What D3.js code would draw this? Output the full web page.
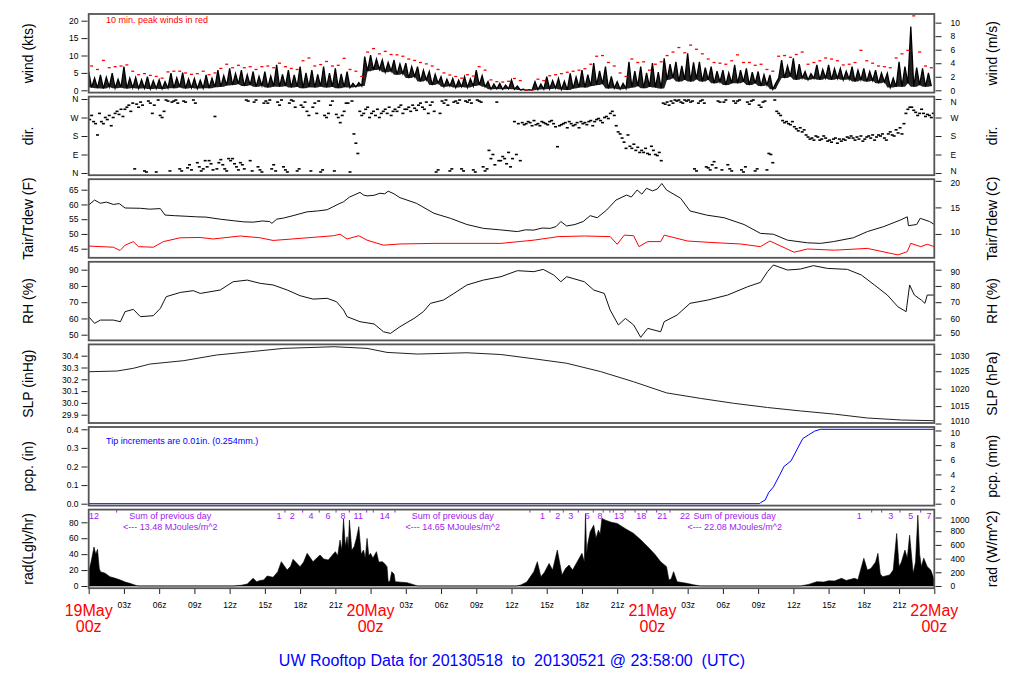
<!DOCTYPE html>
<html>
<head>
<meta charset="utf-8">
<script src="https://cdn.jsdelivr.net/npm/d3@7"></script>
<style>
  body { margin: 0; background: #fff; }
  text { font-family: "Liberation Sans", Arial, sans-serif; }
</style>
</head>
<body>
<div id="chart"></div>
<script>
// ---- data (hours since 19May 00z) ----

// wind speed, kts, every 15 minutes (4 per hour)
const windKts = [
  5.4,0.8,3.5,0.6, 4.4,0.5,3.8,1.0, 4.9,0.6,3.2,0.8, 6.8,0.5,3.5,0.7, 3.7,0.5,3.0,0.6, 3.9,0.4,2.8,0.5,
  3.0,0.4,2.5,0.6, 4.9,0.6,3.6,0.9, 5.1,0.5,3.3,0.7, 3.4,0.5,2.9,0.6, 4.4,0.6,3.5,0.9, 5.8,1.0,4.2,1.4,
  6.3,1.5,4.8,1.8, 5.8,1.2,4.5,1.5, 5.4,1.0,4.0,1.3, 5.4,0.8,4.1,1.1, 7.3,1.0,4.6,1.2, 5.8,0.8,4.4,1.0,
  6.8,0.6,5.0,0.9, 5.8,0.8,4.6,1.1, 6.8,0.8,4.9,1.0, 6.3,0.6,4.7,0.9, 5.4,0.8,2.0,1.0, 2.2,1.2,9.7,5.5,
  10.1,5.8,9.0,6.0, 8.7,5.2,8.0,5.5, 8.7,4.5,7.6,4.8, 7.8,3.5,6.8,4.0, 6.8,2.5,5.8,3.0, 5.4,1.5,4.6,2.0,
  3.9,1.0,3.2,1.2, 3.4,0.8,2.9,1.0, 3.9,0.8,3.3,1.2, 5.8,1.5,4.2,1.0, 2.5,0.3,1.8,0.4, 2.0,0.3,1.5,0.4,
  3.0,0.3,1.2,0.1, 0.3,0.0,0.2,0.0, 2.5,0.2,1.8,0.3, 3.9,0.4,2.8,0.6, 3.4,0.2,2.6,0.1, 4.9,0.5,3.8,0.8,
  5.8,0.8,4.5,1.2, 7.8,1.5,5.6,1.8, 6.8,0.5,4.0,0.6, 2.5,0.3,2.0,0.5, 8.2,0.8,5.5,1.2, 6.8,0.6,5.0,1.0,
  7.8,0.8,5.2,0.5, 9.2,3.0,7.5,3.5, 8.2,2.5,7.0,3.0, 10.6,2.5,8.0,3.2, 8.2,2.5,6.5,3.0, 6.8,2.0,5.5,2.4,
  5.8,1.5,5.0,2.0, 7.3,2.0,5.8,2.4, 6.3,1.5,5.2,2.0, 5.4,1.2,4.5,1.5, 4.4,0.3,2.0,3.5, 8.7,3.5,7.0,4.0,
  9.2,3.0,7.5,3.5, 5.4,3.0,4.8,3.4, 7.3,3.0,6.0,3.5, 7.3,3.0,6.2,3.4, 6.3,3.0,5.5,3.2, 6.8,2.5,5.8,3.0,
  6.3,2.5,5.4,2.8, 5.8,2.0,5.0,2.4, 4.9,0.8,3.5,1.0, 8.2,1.0,6.8,2.0, 18.3,1.0,6.5,1.5, 6.3,1.0,5.0,1.2
];

// 10 min peak winds, kts, two per hour
const gustKts = [
  7.0,6.0, 8.6,6.5, 6.8,7.0, 7.3,5.5, 4.5,4.8, 4.3,4.0, 3.5,5.3, 5.5,5.5, 5.0,4.6, 4.8,5.5, 4.5,5.0, 6.3,7.5,
  6.5,7.2, 6.5,6.8, 6.0,6.8, 7.0,6.5, 7.8,6.8, 6.3,6.0, 8.5,9.3, 7.0,7.4, 8.3,7.0, 7.2,9.2, 6.0,5.5, 4.0,11.0,
  12.0,10.5, 11.2,10.3, 10.2,9.8, 9.0,8.6, 8.0,7.6, 7.0,6.0, 5.0,4.4, 4.0,3.5, 4.5,4.1, 6.8,5.8, 3.0,2.5, 2.4,2.6,
  3.4,2.8, 0.1,0.1, 3.2,2.8, 4.2,4.5, 4.8,5.2, 5.5,5.8, 6.2,7.5, 9.8,10.0, 8.0,7.0, 5.0,4.0, 9.0,8.0, 8.2,5.8,
  7.5,8.2, 10.0,11.0, 12.3,10.8, 13.0,11.8, 10.5,9.0, 8.0,7.8, 7.5,8.5, 10.2,8.0, 8.0,7.2, 7.5,6.0, 5.5,9.8, 10.0,9.5,
  10.3,11.0, 7.5,8.0, 8.5,9.3, 9.0,8.5, 7.3,7.5, 8.0,11.5, 8.5,7.8, 7.0,6.8, 6.5,9.3, 10.5,11.5, 21.4,11.0, 7.0,6.5
];

// wind direction, degrees, every 10 minutes (6 per hour)
const dirDeg = [
  260,280,250,240,185,290, 250,240,270,260,280,230, 270,290,300,285,310,275, 310,320,330,300,340,20,
  335,320,345,330,10,5, 350,340,290,330,5,355, 280,270,300,355,350,10, 345,350,355,340,20,10,
  350,345,25,40,15,355, 340,50,30,10,20,60, 30,60,45,15,275,20, 50,65,40,20,10,70,
  60,70,45,30,15,50, 40,20,355,350,60,10, 345,355,30,15,5,340, 350,340,355,20,40,10,
  345,330,355,30,15,5, 340,355,350,320,10,20, 330,320,345,300,280,10, 320,340,290,350,5,15,
  280,270,290,330,350,10, 285,270,245,280,300,340, 340,5,350,190,145,95, 300,280,290,310,320,270,
  290,300,280,310,270,290, 300,310,290,320,280,300, 310,300,320,330,290,310, 310,320,300,330,315,305,
  330,340,320,310,345,290, 330,345,300,5,15,290, 350,340,355,330,10,20, 345,350,340,355,20,10,
  350,345,355,340,15,5, 355,350,345,30,10,20, 110,70,90,40,345,60, 60,80,70,45,100,30,
  70,250,90,240,60,245, 235,240,250,245,230,255, 235,240,230,250,245,240, 235,250,255,240,225,128,
  230,235,240,245,220,250, 240,230,235,245,220,250, 240,245,235,250,255,230, 250,260,265,255,245,270,
  275,265,290,300,280,230, 200,190,170,150,120,185, 130,120,140,110,125,100, 110,100,120,95,90,130,
  110,90,85,100,60,340, 335,345,330,350,340,355, 350,355,345,340,355,350, 355,345,350,20,10,340,
  350,355,340,30,25,15, 40,55,25,350,345,15, 345,355,40,20,10,350, 340,350,355,15,5,30,
  345,335,350,355,10,20, 330,320,345,350,15,95, 90,50,355,300,290,280, 255,245,250,240,235,250,
  225,215,205,220,200,210, 185,175,165,170,160,180, 175,160,165,180,170,155, 160,150,165,170,145,165,
  155,165,160,175,170,180, 170,160,175,165,180,155, 165,175,180,170,185,160, 175,185,180,190,170,160,
  190,200,185,180,210,195, 220,190,240,290,310,320, 320,305,295,280,290,310, 290,275,285,280,270,290
];

// air temperature, F  [hour, value]
const tairF = [
  [0,59.8],[0.5,61.5],[1,60.4],[1.5,60.8],[2.1,60],[2.6,60.3],[3.1,58.8],[4.4,58.7],[5.2,58.4],[6.1,58.6],
  [6.5,56.4],[7.3,56.2],[8.3,56],[9.2,55.8],[10,55.7],[11.2,55],[12.3,54.5],[13.2,54.1],[14,54],[14.8,54.4],
  [15.4,54.2],[15.6,53.6],[16,55],[16.6,55.4],[17.4,56.2],[18.6,57.5],[19.5,57.8],[20.3,58.2],[20.8,59.2],
  [21.3,60.2],[21.7,60.9],[22.2,62.5],[22.5,63],[23.1,64.1],[23.4,63.2],[23.7,62.9],[24.3,63.1],[24.8,63.8],
  [25.2,63.6],[25.5,64.5],[26,63.6],[26.5,62.3],[27.9,60.4],[29.4,57],[30.8,55.3],[32.2,53.2],[33.6,51.9],
  [35,51.4],[36.5,50.8],[37.2,51.4],[37.9,51.3],[38.6,52],[39.3,51.9],[39.8,52.5],[40.2,54.2],[40.7,52.7],
  [41.4,53.2],[42.1,54.2],[42.7,56.2],[43.3,55.5],[44.1,58.1],[44.9,61.5],[45.8,63.2],[46.2,62.5],[46.7,64.9],
  [47.1,63.5],[47.5,65.5],[48,64.6],[48.4,65.2],[48.8,67.1],[49.2,64.9],[50.4,62.1],[51.2,57.8],[52.6,56.4],
  [54.1,55.5],[55.8,53.2],[57.2,50.2],[58.3,49.9],[59.5,47.9],[61.2,47],[62.3,46.8],[63.4,47.4],[65.1,48.7],
  [66.3,50.8],[67.7,52.5],[69.1,54.7],[69.7,55.8],[69.8,52.8],[70.5,53.2],[70.8,55.3],[71.6,54.2],[72,53.2]
];

// dew point, F  [hour, value]
const tdewF = [
  [0,45.9],[2.1,45.5],[2.67,44.4],[3.1,46.2],[3.8,47.4],[4.23,45.7],[5.5,45.5],[6.36,47.4],[7.78,48.7],
  [9.49,48.8],[10.6,48.3],[12.9,49.3],[14.6,48.7],[15.7,47.8],[18,48.5],[20.85,49.4],[21.4,49.9],[22,48.3],
  [23,49.4],[23.7,47.9],[25.1,46.2],[26.5,46.6],[29.4,46.8],[32.2,46.8],[35.1,46.8],[37.9,47.9],[40,49.1],
  [42.2,49.3],[44.4,49.1],[45,46.5],[45.6,49.6],[46.4,49.4],[46.85,45.7],[47.6,47.4],[48.7,47.4],[49,49.6],
  [51,47.6],[53.5,47],[55.5,46.6],[57.2,45.7],[58,47.6],[60.06,43.8],[61.2,44.9],[63.5,44.5],[66.3,45.1],
  [68.9,42.9],[69.7,44],[69.99,46.8],[70.85,45.7],[71.4,46.5],[72,45.7]
];

// relative humidity, %  [hour, value]
const rhPct = [
  [0,61.1],[0.5,57],[1,59],[2.1,59],[2.7,58],[3.1,64.2],[3.8,65.6],[4.4,61.1],[5.5,61.7],[6.1,66.2],
  [6.6,73.4],[7.8,76],[8.9,77.1],[9.5,75.4],[11.2,77.5],[12.3,82.6],[13.5,83.6],[14.6,81.6],[15.7,80.6],
  [16.9,77.5],[18,74],[19.1,71.9],[20.3,72.4],[21.1,70.3],[21.7,65.2],[22,61.1],[23.1,58],[24.3,56.6],
  [25.1,51.8],[25.7,50.8],[26.5,54.9],[27.7,60],[28.5,64.2],[29.1,69.3],[30.2,71.3],[31.1,75.4],[32.2,80.6],
  [33.6,83.6],[35.1,85.7],[36.5,89.4],[37.9,88.8],[38.7,90.2],[39.6,86.7],[40.2,82.6],[40.7,85.7],[42.2,82.6],
  [43,77.5],[43.9,75.4],[44.4,65.2],[45.1,56],[45.7,60],[46.4,56],[47,48.4],[47.6,53.9],[48.7,51.8],[49,58],
  [50.1,62.1],[51.2,69.3],[52.7,71.3],[54.4,74.4],[56.1,79.5],[57.2,82.2],[57.8,88.8],[58.3,92.9],[59.5,89.8],
  [60.6,90.4],[61.7,92.5],[62.9,90.8],[64.6,90.2],[65.8,86.7],[66.9,80.6],[68,74.4],[68.9,67.2],[69.6,64.2],
  [69.9,80.6],[70.3,74.4],[70.9,71.3],[71.2,69.3],[71.4,74.4],[72,74.4]
];

// sea level pressure, inHg  [hour, value]
const slpIn = [
  [0,30.264],[2.4,30.27],[3.8,30.293],[5.2,30.329],[8.1,30.358],[10.9,30.406],[13.8,30.434],[16.6,30.462],
  [20.9,30.476],[23.7,30.462],[25.4,30.428],[28,30.414],[32.2,30.425],[35.1,30.41],[37.9,30.374],[40.7,30.336],
  [43.6,30.265],[46.4,30.179],[49.2,30.085],[52.1,30.038],[54.9,29.997],[57.8,29.961],[60.6,29.932],
  [63.5,29.905],[66.3,29.872],[69.2,29.855],[72,29.849]
];

// accumulated precipitation, in  [hour, value]
const pcpIn = [
  [0,0],[57.1,0],[57.2,0.005],[57.6,0.02],[57.9,0.06],[58.3,0.09],[58.8,0.15],[59.2,0.2],[59.8,0.23],
  [60.3,0.29],[60.8,0.35],[61.3,0.37],[61.8,0.39],[62.3,0.4],[72,0.4]
];

// solar radiation, Langley/hr  [hour, value]
const radLgly = [
  [0,18],[0.2,30],[0.45,49],[0.6,40],[0.75,46],[0.9,22],[1,18],[1.4,16],[1.8,11.7],[2.2,10],[2.7,7.5],
  [3.1,5],[3.5,3.3],[4.1,0.4],[4.3,0],
  [12.3,0],[13,1],[13.5,2.5],[14,9.6],[14.3,5.4],[14.6,7],[14.9,7.5],[15.2,12.6],[15.7,10.9],[16.1,18],
  [16.4,30.5],[16.9,20],[17.2,25],[17.4,33.5],[18,24.3],[18.3,30],[18.6,41],[19.1,30.5],[19.4,35],[19.7,38.9],
  [20,34],[20.4,32.6],[20.7,38],[21,43.1],[21.2,38],[21.4,57.7],[21.55,45],[21.7,84.1],[21.85,50],[22,61.9],
  [22.1,48],[22.2,82.8],[22.4,45],[22.6,49.4],[22.8,60],[23,74.5],[23.2,40],[23.4,45.2],[23.55,35],[23.7,59.8],
  [23.85,38],[24,41],[24.2,35],[24.5,43.1],[24.7,30],[25,30.5],[25.2,28],[25.4,24.3],[25.5,5.4],[25.65,6],
  [25.8,18],[26,15],[26.1,5.4],[26.6,4.8],[27.1,4.2],[27.6,2],[28,0],
  [36.4,0],[36.8,1.3],[37.3,5],[37.9,18],[38.2,30.5],[38.5,11.7],[38.8,17],[39.2,28.4],[39.5,20],[39.9,45.1],
  [40.3,13.8],[40.6,22],[40.9,26.3],[41.2,20],[41.6,30.5],[42,41],[42.2,30],[42.3,91],[42.4,40],[42.5,53.4],
  [42.7,68],[43,76.4],[43.2,60],[43.4,70.2],[43.55,65],[43.7,84.8],[44,82.7],[44.5,80],[45,78.6],[45.7,72],
  [46.4,66],[47,58],[47.6,49.3],[48.2,40],[48.7,30.5],[49.2,24.3],[49.4,7.5],[49.6,9],[49.8,18],[50.1,5.4],
  [50.9,3.4],[51.5,1.5],[52.1,0],
  [60.6,0],[61.3,2],[62,5.4],[62.6,5],[63,6.5],[63.5,6.3],[64.1,9.6],[64.5,7],[65.2,9.6],[65.5,8],[65.8,24.3],
  [66,34.7],[66.3,20],[66.6,22],[67,30],[67.2,41],[67.4,15],[67.6,11.7],[68.2,13.8],[68.5,20],[68.8,66],
  [69,24.3],[69.2,30],[69.5,45.1],[69.7,35],[69.9,63.9],[70.2,15.8],[70.4,30],[70.6,89],[70.75,40],
  [70.9,24.3],[71.1,35],[71.4,24.3],[71.7,20],[72,7.5]
];

// purple markers at the top of the radiation panel
const radMarkHours  = [0.45, 16.2,17.33,18.93,20.37,21.65,22.95,25.2, 38.65,39.93,41.04,42.45,43.53,45.15,47.05,48.84,50.77, 65.61,68.29,69.99,71.55];
const radMarkLabels = ["12", "1","2","4","6","8","11","14", "1","2","3","6","8","13","18","21","22", "1","3","5","7"];
const radMinorHours = [2.38,16.71,18.22,19.63,21.06,22.19,23.67,24.23,26.08,37.57,39.27,40.41,41.69,42.96,43.81,44.38,44.67,45.67,46.52,47.51,48.36,49.49,66.67,67.52,69.08,70.84];
const daySumHours   = [6.94, 31.0, 55.0];
const daySums       = ["13.48", "14.65", "22.08"];

// time axis labels
const tickHours  = d3.range(0, 73, 3);
const dayLabels  = ["19May", "20May", "21May", "22May"];
const hourLabels = ["03z","06z","09z","12z","15z","18z","21z"];

// ---- layout ----
const width = 1024, height = 700;
const x0 = 88.7, x1 = 934.3;
const ptop = i => 14 + 82.6 * i;
const ph = 78.6;

const svg = d3.select("#chart").append("svg")
  .attr("width", width).attr("height", height);

const x = d3.scaleLinear().domain([0, 72]).range([x0, x1]);

const ktsPerMs = 1.94384, hPaPerIn = 33.8639, mmPerIn = 25.4, wPerLgly = 11.622;

const yWind = d3.scaleLinear().domain([0, 20]).range([90.3, 20.7]);
const yDir  = d3.scaleLinear().domain([0, 360]).range([173, 99]);
const yT    = d3.scaleLinear().domain([45, 65]).range([248.7, 189.7]);
const yRH   = d3.scaleLinear().domain([50, 90]).range([334.7, 269.7]);
const ySLP  = d3.scaleLinear().domain([29.9, 30.4]).range([414.7, 355.7]);
const yPcp  = d3.scaleLinear().domain([0, 0.4]).range([503.7, 429.3]);
const yRad  = d3.scaleLinear().domain([0, 80]).range([586, 522.3]);

const dirName = {0: "N", 90: "E", 180: "S", 270: "W", 360: "N"};

const panels = [
  {l: "wind (kts)", r: "wind (m/s)", y: yWind, lt: [0,5,10,15,20],
   ry: yWind.copy().domain(yWind.domain().map(d => d / ktsPerMs)), rt: [0,2,4,6,8,10]},
  {l: "dir.", r: "dir.", y: yDir, lt: [0,90,180,270,360], lf: d => dirName[d],
   ry: yDir, rt: [0,90,180,270,360], rf: d => dirName[d]},
  {l: "Tair/Tdew (F)", r: "Tair/Tdew (C)", y: yT, lt: [45,50,55,60,65],
   ry: yT.copy().domain(yT.domain().map(d => (d - 32) / 1.8)), rt: [10,15,20]},
  {l: "RH (%)", r: "RH (%)", y: yRH, lt: [50,60,70,80,90], ry: yRH, rt: [50,60,70,80,90]},
  {l: "SLP (inHg)", r: "SLP (hPa)", y: ySLP, lt: [29.9,30.0,30.1,30.2,30.3,30.4], lf: d3.format(".1f"),
   ry: ySLP.copy().domain(ySLP.domain().map(d => d * hPaPerIn)), rt: [1010,1015,1020,1025,1030]},
  {l: "pcp. (in)", r: "pcp. (mm)", y: yPcp, lt: [0,0.1,0.2,0.3,0.4], lf: d3.format(".1f"),
   ry: yPcp.copy().domain(yPcp.domain().map(d => d * mmPerIn)), rt: [0,2,4,6,8,10]},
  {l: "rad(Lgly/hr)", r: "rad (W/m^2)", y: yRad, lt: [0,20,40,60,80],
   ry: yRad.copy().domain(yRad.domain().map(d => d * wPerLgly)), rt: [0,200,400,600,800,1000]}
];

function tidy(g) {
  g.select(".domain").remove();
  g.selectAll("line").attr("stroke", "#222");
  g.selectAll("text").attr("font-size", 8.5).attr("fill", "#000")
    .attr("font-family", "Liberation Sans, Arial, sans-serif");
}

const defs = svg.append("defs");

panels.forEach((p, i) => {
  const t = ptop(i);
  defs.append("clipPath").attr("id", "clip" + i)
    .append("rect").attr("x", x0).attr("y", t).attr("width", x1 - x0).attr("height", ph);

  svg.append("g").attr("transform", `translate(${x0 - 1.2},0)`)
    .call(d3.axisLeft(p.y).tickValues(p.lt).tickFormat(p.lf || (d => d)).tickSize(6).tickPadding(3))
    .call(tidy);
  const ra = svg.append("g").attr("transform", `translate(${x1 + 1.2},0)`)
    .call(d3.axisRight(p.ry).tickValues(p.rt).tickFormat(p.rf || (d => d)).tickSize(6).tickPadding(9))
    .call(tidy);
  // keep the end labels of stacked right axes from touching
  const rticks = ra.selectAll(".tick text");
  rticks.filter((d, k) => k === 0 && i > 0 && i < 6).attr("dy", "0.05em");
  rticks.filter((d, k, n) => k === n.length - 1 && i > 0).attr("dy", "0.6em");

  const cy = t + ph / 2;
  svg.append("text").attr("transform", `translate(28,${cy}) rotate(-90)`)
    .attr("text-anchor", "middle").attr("dy", "0.35em").attr("font-size", 14).text(p.l);
  svg.append("text").attr("transform", `translate(992,${cy}) rotate(-90)`)
    .attr("text-anchor", "middle").attr("dy", "0.35em").attr("font-size", 14).text(p.r);
});

const layer = i => svg.append("g").attr("clip-path", `url(#clip${i})`);

// wind: dark band between the local lows and the spiky trace
const wind = layer(0);
const localLow = windKts.map((d, k) => Math.min(d, windKts[k - 1] ?? d, windKts[k + 1] ?? d));
wind.append("path")
  .datum(windKts)
  .attr("fill", "#222").attr("stroke", "none")
  .attr("d", d3.area().x((d, k) => x(k * 0.25)).y0((d, k) => yWind(localLow[k])).y1(d => yWind(d)));
wind.append("path")
  .datum(windKts)
  .attr("fill", "none").attr("stroke", "#000").attr("stroke-width", 1.3)
  .attr("d", d3.line().x((d, k) => x(k * 0.25)).y(d => yWind(d)));
wind.selectAll("rect.gust").data(gustKts).join("rect")
  .attr("x", (d, k) => x(k * 0.5 + 0.25) - 1.5).attr("y", d => yWind(d) - 0.6)
  .attr("width", 3).attr("height", 1.3).attr("fill", "#ff0000");
svg.append("text").attr("x", 106).attr("y", 23).attr("font-size", 9).attr("fill", "#ff0000")
  .text("10 min. peak winds in red");

// direction
layer(1).selectAll("rect").data(dirDeg).join("rect")
  .attr("x", (d, k) => x(k / 6 + 1 / 12) - 1.5).attr("y", d => yDir(d) - 0.8)
  .attr("width", 3).attr("height", 1.6).attr("fill", "#000");

// temperatures
const tl = d3.line().x(d => x(d[0])).y(d => yT(d[1]));
const temp = layer(2);
temp.append("path").datum(tairF).attr("fill", "none").attr("stroke", "#111").attr("stroke-width", 1).attr("d", tl);
temp.append("path").datum(tdewF).attr("fill", "none").attr("stroke", "#ff0000").attr("stroke-width", 1).attr("d", tl);

// humidity
layer(3).append("path").datum(rhPct)
  .attr("fill", "none").attr("stroke", "#111").attr("stroke-width", 1)
  .attr("d", d3.line().x(d => x(d[0])).y(d => yRH(d[1])));

// pressure
layer(4).append("path").datum(slpIn)
  .attr("fill", "none").attr("stroke", "#222").attr("stroke-width", 1)
  .attr("d", d3.line().x(d => x(d[0])).y(d => ySLP(d[1])));

// precipitation
layer(5).append("path").datum(pcpIn)
  .attr("fill", "none").attr("stroke", "#0000ff").attr("stroke-width", 1)
  .attr("d", d3.line().x(d => x(d[0])).y(d => yPcp(d[1])));
svg.append("text").attr("x", 106).attr("y", 444).attr("font-size", 9).attr("fill", "#0000ff")
  .text("Tip increments are 0.01in. (0.254mm.)");

// radiation
layer(6).append("path").datum(radLgly)
  .attr("fill", "#000").attr("stroke", "#000").attr("stroke-width", 0.6)
  .attr("d", d3.area().x(d => x(d[0])).y0(yRad(0)).y1(d => yRad(d[1])));
const purple = "#a020f0";
const rt = ptop(6);
svg.append("g").selectAll("text").data(radMarkHours).join("text")
  .attr("x", d => x(d)).attr("y", rt + 9).attr("text-anchor", "middle")
  .attr("font-size", 9).attr("fill", purple).text((d, k) => radMarkLabels[k]);
svg.append("g").selectAll("line").data(radMinorHours).join("line")
  .attr("x1", d => x(d)).attr("x2", d => x(d)).attr("y1", rt).attr("y2", rt + 3)
  .attr("stroke", purple).attr("stroke-width", 1);
daySumHours.forEach((h, k) => {
  svg.append("text").attr("x", x(h)).attr("y", rt + 9).attr("text-anchor", "middle")
    .attr("font-size", 9).attr("fill", purple).text("Sum of previous day");
  svg.append("text").attr("x", x(h)).attr("y", rt + 20).attr("text-anchor", "middle")
    .attr("font-size", 9).attr("fill", purple).text("<--- " + daySums[k] + " MJoules/m^2");
});

// panel frames
panels.forEach((p, i) => {
  svg.append("rect").attr("x", x0).attr("y", ptop(i)).attr("width", x1 - x0).attr("height", ph)
    .attr("fill", "none").attr("stroke", "#555").attr("stroke-width", 1.8);
});

// time axis
const bottom = ptop(6) + ph;
svg.append("g").attr("transform", `translate(0,${bottom + 0.8})`)
  .call(d3.axisBottom(x).tickValues(tickHours)
    .tickFormat(h => h % 24 === 0 ? "" : hourLabels[(h % 24) / 3 - 1])
    .tickSize(5).tickPadding(8))
  .call(tidy);
dayLabels.forEach((lab, k) => {
  svg.append("text").attr("x", x(k * 24)).attr("y", 616).attr("text-anchor", "middle")
    .attr("font-size", 16).attr("fill", "#ff0000").text(lab);
  svg.append("text").attr("x", x(k * 24)).attr("y", 632).attr("text-anchor", "middle")
    .attr("font-size", 16).attr("fill", "#ff0000").text("00z");
});

svg.append("text").attr("x", 512).attr("y", 666).attr("text-anchor", "middle")
  .attr("font-size", 16).attr("fill", "#0000ff").style("white-space", "pre")
  .text("UW Rooftop Data for 20130518  to  20130521 @ 23:58:00  (UTC)");
</script>
</body>
</html>
